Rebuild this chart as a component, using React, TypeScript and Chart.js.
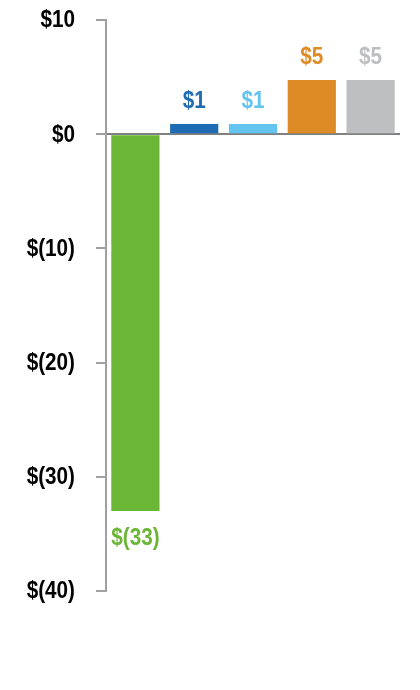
import React, { useEffect, useRef } from "react";
import { Chart, registerables } from "chart.js";

Chart.register(...registerables);

const categories = ["A", "B", "C", "D", "E"];
const values = [-33, 0.9, 0.9, 4.75, 4.75];
const barColors = ["#6BB636", "#1F6CB4", "#63C4EF", "#DD8B27", "#BDBEC0"];
const yTicks = [10, 0, -10, -20, -30, -40];

const FONT = "'Liberation Sans', Arial, sans-serif";
const FONT_SIZE = 23;
const SCALE_X = 0.9;

const fmt = (v: number) => (v < 0 ? `$(${Math.abs(v)})` : `$${v}`);

function drawNarrow(ctx: CanvasRenderingContext2D, text: string, x: number, y: number, align: CanvasTextAlign, color: string) {
  ctx.save();
  ctx.translate(x, y);
  ctx.scale(SCALE_X, 1);
  ctx.font = `bold ${FONT_SIZE}px ${FONT}`;
  ctx.textAlign = align;
  ctx.textBaseline = "middle";
  ctx.fillStyle = color;
  ctx.fillText(text, 0, 0);
  ctx.restore();
}

const labelPlugin = {
  id: "barLabels",
  afterDraw(chart: any) {
    const { ctx } = chart;
    const meta = chart.getDatasetMeta(0);
    meta.data.forEach((bar: any, i: number) => {
      const v = values[i];
      const y = v >= 0 ? bar.y - 22 : bar.y + 28;
      drawNarrow(ctx, fmt(Math.round(v)), bar.x, y, "center", barColors[i]);
    });
    const yScale = chart.scales.y;
    const right = chart.chartArea.left - 31;
    yTicks.forEach((t) => {
      drawNarrow(ctx, fmt(t), right, yScale.getPixelForValue(t) + 1, "right", "#000000");
    });
  },
};

export default function App() {
  const ref = useRef<HTMLCanvasElement>(null);
  useEffect(() => {
    if (!ref.current) return;
    const chart = new Chart(ref.current, {
      type: "bar",
      data: {
        labels: categories,
        datasets: [
          {
            data: values,
            backgroundColor: barColors,
            borderWidth: 0,
            categoryPercentage: 1,
            barPercentage: 0.82,
          },
        ],
      },
      options: {
        animation: false,
        responsive: false,
        maintainAspectRatio: false,
        layout: { padding: { left: 0, top: 20, right: 20, bottom: 99 } },
        plugins: { legend: { display: false }, tooltip: { enabled: false } },
        scales: {
          x: { display: false },
          y: {
            min: -40,
            max: 10,
            afterFit: (s: any) => {
              s.width = 106;
            },
            afterBuildTicks: (s: any) => {
              s.ticks = yTicks.map((v) => ({ value: v }));
            },
            border: { display: true, color: "#A0A0A0", width: 2 },
            grid: {
              drawOnChartArea: true,
              drawTicks: true,
              tickLength: 10,
              tickWidth: 2,
              tickColor: "#A0A0A0",
              lineWidth: 2,
              color: (c: any) => (c.tick && c.tick.value === 0 ? "#808080" : "rgba(0,0,0,0)"),
            },
            ticks: { display: false },
          },
        },
      },
      plugins: [labelPlugin],
    });
    return () => chart.destroy();
  }, []);
  return (
    <div style={{ position: "fixed", left: 0, top: 0, width: 420, height: 690, background: "#fff" }}>
      <canvas ref={ref} width={420} height={690} style={{ display: "block" }} />
    </div>
  );
}
